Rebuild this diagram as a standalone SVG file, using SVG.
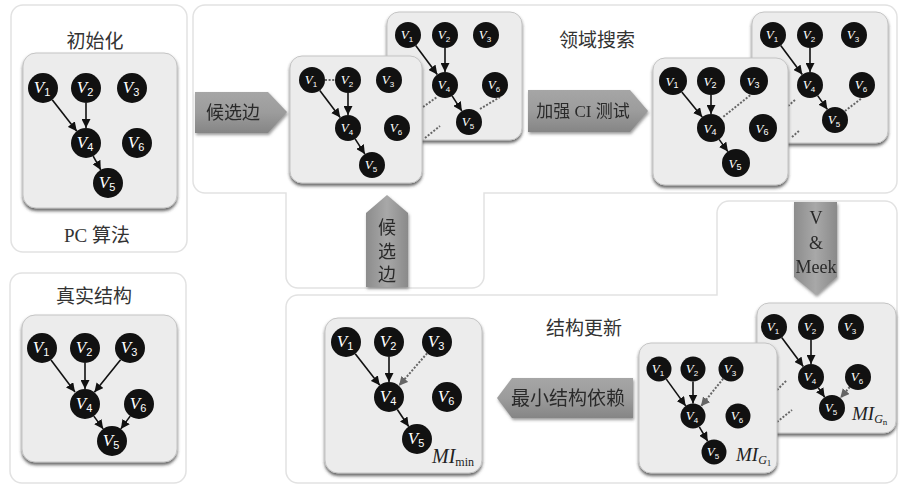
<svg xmlns="http://www.w3.org/2000/svg" width="900" height="486" viewBox="0 0 900 486">
<defs>
<style>
.panel{fill:#fff;stroke:#e2e2e2;stroke-width:1.5}
.box{fill:#ececec;stroke:#c4c4c4;stroke-width:1;filter:url(#sh)}
.n{fill:#111}
.nl{font-family:"Liberation Serif",serif;font-style:italic;fill:#fff;text-anchor:middle}
.big{font-size:17px}
.sm{font-size:13px}
.sub{font-style:normal;font-family:"Liberation Sans",sans-serif}
.e{stroke:#111;stroke-width:1.6;fill:none;marker-end:url(#ah)}
.d{stroke:#666;stroke-width:2;stroke-dasharray:2,1.6;fill:none}
.da{stroke:#666;stroke-width:2;stroke-dasharray:2,1.6;fill:none;marker-end:url(#ahg)}
.t{font-family:"Liberation Serif","Noto Sans CJK SC",serif;fill:#333;text-anchor:middle}
.at{font-family:"Liberation Serif","Noto Sans CJK SC",serif;fill:#2a2a2a;text-anchor:middle}
.mi{font-family:"Liberation Serif",serif;font-style:italic;fill:#222}
.ar{filter:url(#sh2)}
</style>
<filter id="sh" x="-10%" y="-10%" width="120%" height="125%">
<feDropShadow dx="0" dy="2.5" stdDeviation="1.4" flood-color="#333" flood-opacity="0.75"/>
</filter>
<filter id="sh2" x="-20%" y="-20%" width="140%" height="140%">
<feDropShadow dx="1" dy="2" stdDeviation="1.6" flood-color="#555" flood-opacity="0.6"/>
</filter>
<linearGradient id="gh" x1="0" y1="0" x2="0" y2="1">
<stop offset="0" stop-color="#a6a6a6"/><stop offset="0.5" stop-color="#9c9c9c"/><stop offset="1" stop-color="#858585"/>
</linearGradient>
<linearGradient id="gv" x1="0" y1="0" x2="1" y2="0">
<stop offset="0" stop-color="#8c8c8c"/><stop offset="0.5" stop-color="#a8a8a8"/><stop offset="1" stop-color="#8a8a8a"/>
</linearGradient>
<marker id="ah" viewBox="0 0 10 10" refX="10" refY="5" markerWidth="9" markerHeight="9" markerUnits="userSpaceOnUse" orient="auto">
<path d="M0,0 L10,5 L0,10 z" fill="#111"/>
</marker>
<marker id="ahg" viewBox="0 0 10 10" refX="10" refY="5" markerWidth="9" markerHeight="9" markerUnits="userSpaceOnUse" orient="auto">
<path d="M0,0 L10,5 L0,10 z" fill="#666"/>
</marker>
</defs>

<g id="panels">
<rect class="panel" x="11" y="5" width="176" height="247" rx="12"/>
<rect class="panel" x="10" y="273" width="176" height="210" rx="12"/>
<path class="panel" d="M205,5 H885 A12,12 0 0 1 897,17 V181 A12,12 0 0 1 885,193 H484 V276 A12,12 0 0 1 472,288 H298 A12,12 0 0 1 286,276 V193 H205 A12,12 0 0 1 193,181 V17 A12,12 0 0 1 205,5 Z"/>
<path class="panel" d="M298,295 H717 V213 A12,12 0 0 1 729,201 H885 A12,12 0 0 1 897,213 V471 A12,12 0 0 1 885,483 H298 A12,12 0 0 1 286,471 V307 A12,12 0 0 1 298,295 Z"/>
</g>

<g id="titles">
<text class="t" x="95" y="48" font-size="19">初始化</text>
<text class="t" x="97" y="242" font-size="19">PC 算法</text>
<text class="t" x="94" y="303" font-size="19">真实结构</text>
<text class="t" x="597" y="47" font-size="19">领域搜索</text>
<text class="t" x="584" y="335" font-size="19">结构更新</text>
</g>

<g id="arrows">
<g id="arrow-candidate-right" class="ar">
<polygon points="195,92 268,92 287,112 268,133 195,133" fill="url(#gh)"/>
<text class="at" x="233" y="119" font-size="18">候选边</text>
</g>
<g id="arrow-ci" class="ar">
<polygon points="528,90 630,90 648,111 630,132 528,132" fill="url(#gh)"/>
<text class="at" x="583" y="117" font-size="17">加强 CI 测试</text>
</g>
<g id="arrow-candidate-up" class="ar">
<polygon points="366,213 387,195 408,213 408,287 366,287" fill="url(#gv)"/>
<text class="at" x="387" y="234" font-size="18">候</text>
<text class="at" x="387" y="258" font-size="18">选</text>
<text class="at" x="387" y="281" font-size="18">边</text>
</g>
<g id="arrow-meek" class="ar">
<polygon points="794,202 837,202 837,277 816,295 794,277" fill="url(#gv)"/>
<text class="at" x="816" y="224" font-size="18">V</text>
<text class="at" x="816" y="249" font-size="18">&amp;</text>
<text class="at" x="816" y="273" font-size="18">Meek</text>
</g>
<g id="arrow-minimal" class="ar">
<polygon points="497,398 512,378 633,378 633,418 512,418" fill="url(#gh)"/>
<text class="at" x="568" y="405" font-size="19">最小结构依赖</text>
</g>
</g>

<g id="graph-init">
<rect class="box" x="23" y="53" width="154" height="155" rx="13"/>
<g id="connectors-init">
<line class="e" x1="52.2" y1="99.8" x2="76.8" y2="131.2"/>
<line class="e" x1="86" y1="103" x2="86" y2="128"/>
<line class="e" x1="93.2" y1="156.1" x2="100.8" y2="169.9"/>
</g>
<g id="init-V1"><circle class="n" cx="43" cy="88" r="15"/><text class="nl big" x="42" y="93">V<tspan class="sub" font-size="11" dy="3">1</tspan></text></g>
<g id="init-V2"><circle class="n" cx="86" cy="88" r="15"/><text class="nl big" x="85" y="93">V<tspan class="sub" font-size="11" dy="3">2</tspan></text></g>
<g id="init-V3"><circle class="n" cx="132" cy="88" r="15"/><text class="nl big" x="131" y="93">V<tspan class="sub" font-size="11" dy="3">3</tspan></text></g>
<g id="init-V4"><circle class="n" cx="86" cy="143" r="15"/><text class="nl big" x="85" y="148">V<tspan class="sub" font-size="11" dy="3">4</tspan></text></g>
<g id="init-V6"><circle class="n" cx="137" cy="143" r="15"/><text class="nl big" x="136" y="148">V<tspan class="sub" font-size="11" dy="3">6</tspan></text></g>
<g id="init-V5"><circle class="n" cx="108" cy="183" r="15"/><text class="nl big" x="107" y="188">V<tspan class="sub" font-size="11" dy="3">5</tspan></text></g>
</g>

<g id="graph-truth">
<rect class="box" x="22" y="315" width="155" height="147" rx="13"/>
<g id="connectors-truth">
<line class="e" x1="51" y1="360" x2="75" y2="392"/>
<line class="e" x1="85" y1="363" x2="85" y2="389"/>
<line class="e" x1="120.6" y1="359.7" x2="94.4" y2="392.3"/>
<line class="e" x1="93.8" y1="416.1" x2="103.2" y2="428.9"/>
<line class="e" x1="130.2" y1="416.1" x2="120.8" y2="428.9"/>
</g>
<g id="truth-V1"><circle class="n" cx="42" cy="348" r="15"/><text class="nl big" x="41" y="353">V<tspan class="sub" font-size="11" dy="3">1</tspan></text></g>
<g id="truth-V2"><circle class="n" cx="85" cy="348" r="15"/><text class="nl big" x="84" y="353">V<tspan class="sub" font-size="11" dy="3">2</tspan></text></g>
<g id="truth-V3"><circle class="n" cx="130" cy="348" r="15"/><text class="nl big" x="129" y="353">V<tspan class="sub" font-size="11" dy="3">3</tspan></text></g>
<g id="truth-V4"><circle class="n" cx="85" cy="404" r="15"/><text class="nl big" x="84" y="409">V<tspan class="sub" font-size="11" dy="3">4</tspan></text></g>
<g id="truth-V6"><circle class="n" cx="139" cy="404" r="15"/><text class="nl big" x="138" y="409">V<tspan class="sub" font-size="11" dy="3">6</tspan></text></g>
<g id="truth-V5"><circle class="n" cx="112" cy="441" r="15"/><text class="nl big" x="111" y="446">V<tspan class="sub" font-size="11" dy="3">5</tspan></text></g>
</g>

<g id="graph-search-back">
<rect class="box" x="387" y="12" width="135" height="128" rx="12"/>
<g id="connectors-search-back">
<line class="e" x1="415.7" y1="45.5" x2="437.3" y2="74.5"/>
<line class="e" x1="445" y1="48" x2="445" y2="72"/>
<line class="e" x1="452.1" y1="95.9" x2="461.9" y2="111.1"/>
<line class="d" x1="480" y1="109" x2="500" y2="97"/>
<line class="d" x1="423" y1="107" x2="437" y2="97"/>
<line class="d" x1="425" y1="138" x2="440" y2="126"/>
</g>
<g id="sb-V1"><circle class="n" cx="408" cy="35" r="13"/><text class="nl sm" x="407" y="39">V<tspan class="sub" font-size="8" dy="2.5">1</tspan></text></g>
<g id="sb-V2"><circle class="n" cx="445" cy="35" r="13"/><text class="nl sm" x="444" y="39">V<tspan class="sub" font-size="8" dy="2.5">2</tspan></text></g>
<g id="sb-V3"><circle class="n" cx="486" cy="35" r="13"/><text class="nl sm" x="485" y="39">V<tspan class="sub" font-size="8" dy="2.5">3</tspan></text></g>
<g id="sb-V4"><circle class="n" cx="445" cy="85" r="13"/><text class="nl sm" x="444" y="89">V<tspan class="sub" font-size="8" dy="2.5">4</tspan></text></g>
<g id="sb-V6"><circle class="n" cx="495" cy="85" r="13"/><text class="nl sm" x="494" y="89">V<tspan class="sub" font-size="8" dy="2.5">6</tspan></text></g>
<g id="sb-V5"><circle class="n" cx="469" cy="122" r="13"/><text class="nl sm" x="468" y="126">V<tspan class="sub" font-size="8" dy="2.5">5</tspan></text></g>
</g>

<g id="graph-search-front">
<rect class="box" x="290" y="56" width="132" height="127" rx="12"/>
<g id="connectors-search-front">
<line class="e" x1="319.8" y1="90.4" x2="340.2" y2="117.6"/>
<line class="e" x1="348" y1="93" x2="348" y2="115"/>
<line class="e" x1="355.1" y1="138.9" x2="364.9" y2="154.1"/>
<line class="d" x1="325" y1="80" x2="335" y2="80"/>
</g>
<g id="sf-V1"><circle class="n" cx="312" cy="80" r="13"/><text class="nl sm" x="311" y="84">V<tspan class="sub" font-size="8" dy="2.5">1</tspan></text></g>
<g id="sf-V2"><circle class="n" cx="348" cy="80" r="13"/><text class="nl sm" x="347" y="84">V<tspan class="sub" font-size="8" dy="2.5">2</tspan></text></g>
<g id="sf-V3"><circle class="n" cx="389" cy="80" r="13"/><text class="nl sm" x="388" y="84">V<tspan class="sub" font-size="8" dy="2.5">3</tspan></text></g>
<g id="sf-V4"><circle class="n" cx="348" cy="128" r="13"/><text class="nl sm" x="347" y="132">V<tspan class="sub" font-size="8" dy="2.5">4</tspan></text></g>
<g id="sf-V6"><circle class="n" cx="397" cy="128" r="13"/><text class="nl sm" x="396" y="132">V<tspan class="sub" font-size="8" dy="2.5">6</tspan></text></g>
<g id="sf-V5"><circle class="n" cx="372" cy="165" r="13"/><text class="nl sm" x="371" y="169">V<tspan class="sub" font-size="8" dy="2.5">5</tspan></text></g>
</g>

<g id="graph-ci-back">
<rect class="box" x="752" y="12" width="136" height="131" rx="12"/>
<g id="connectors-ci-back">
<line class="e" x1="780.7" y1="45.5" x2="802.3" y2="74.5"/>
<line class="e" x1="810" y1="48" x2="810" y2="72"/>
<line class="e" x1="817.6" y1="95.6" x2="827.4" y2="109.4"/>
<line class="d" x1="845" y1="111" x2="862" y2="98"/>
<line class="d" x1="788" y1="106" x2="795" y2="100"/>
<line class="d" x1="792" y1="137" x2="800" y2="130"/>
</g>
<g id="cb-V1"><circle class="n" cx="773" cy="35" r="13"/><text class="nl sm" x="772" y="39">V<tspan class="sub" font-size="8" dy="2.5">1</tspan></text></g>
<g id="cb-V2"><circle class="n" cx="810" cy="35" r="13"/><text class="nl sm" x="809" y="39">V<tspan class="sub" font-size="8" dy="2.5">2</tspan></text></g>
<g id="cb-V3"><circle class="n" cx="854" cy="35" r="13"/><text class="nl sm" x="853" y="39">V<tspan class="sub" font-size="8" dy="2.5">3</tspan></text></g>
<g id="cb-V4"><circle class="n" cx="810" cy="85" r="13"/><text class="nl sm" x="809" y="89">V<tspan class="sub" font-size="8" dy="2.5">4</tspan></text></g>
<g id="cb-V6"><circle class="n" cx="862" cy="85" r="13"/><text class="nl sm" x="861" y="89">V<tspan class="sub" font-size="8" dy="2.5">6</tspan></text></g>
<g id="cb-V5"><circle class="n" cx="835" cy="120" r="13"/><text class="nl sm" x="834" y="124">V<tspan class="sub" font-size="8" dy="2.5">5</tspan></text></g>
</g>

<g id="graph-ci-front">
<rect class="box" x="653" y="58" width="135" height="127" rx="12"/>
<g id="connectors-ci-front">
<line class="e" x1="681.8" y1="91.9" x2="702.2" y2="117.1"/>
<line class="e" x1="711" y1="95" x2="711" y2="114"/>
<line class="e" x1="719.1" y1="139.4" x2="727.9" y2="151.6"/>
<line class="d" x1="753" y1="93" x2="723" y2="117"/>
</g>
<g id="cf-V1"><circle class="n" cx="673" cy="81" r="14"/><text class="nl sm" x="672" y="85.5">V<tspan class="sub" font-size="9" dy="2.5">1</tspan></text></g>
<g id="cf-V2"><circle class="n" cx="711" cy="81" r="14"/><text class="nl sm" x="710" y="85.5">V<tspan class="sub" font-size="9" dy="2.5">2</tspan></text></g>
<g id="cf-V3"><circle class="n" cx="754" cy="81" r="14"/><text class="nl sm" x="753" y="85.5">V<tspan class="sub" font-size="9" dy="2.5">3</tspan></text></g>
<g id="cf-V4"><circle class="n" cx="711" cy="128" r="14"/><text class="nl sm" x="710" y="132.5">V<tspan class="sub" font-size="9" dy="2.5">4</tspan></text></g>
<g id="cf-V6"><circle class="n" cx="763" cy="128" r="14"/><text class="nl sm" x="762" y="132.5">V<tspan class="sub" font-size="9" dy="2.5">6</tspan></text></g>
<g id="cf-V5"><circle class="n" cx="736" cy="163" r="14"/><text class="nl sm" x="735" y="167.5">V<tspan class="sub" font-size="9" dy="2.5">5</tspan></text></g>
</g>

<g id="graph-mi-min">
<rect class="box" x="325" y="318" width="157" height="155" rx="13"/>
<g id="connectors-mi-min">
<line class="e" x1="355.2" y1="353.8" x2="379.8" y2="385.2"/>
<line class="e" x1="389" y1="357" x2="389" y2="382"/>
<line class="da" x1="427.1" y1="353.3" x2="398.9" y2="385.7"/>
<line class="e" x1="397.3" y1="409.5" x2="408.7" y2="426.5"/>
</g>
<g id="mm-V1"><circle class="n" cx="346" cy="342" r="15"/><text class="nl big" x="345" y="347">V<tspan class="sub" font-size="11" dy="3">1</tspan></text></g>
<g id="mm-V2"><circle class="n" cx="389" cy="342" r="15"/><text class="nl big" x="388" y="347">V<tspan class="sub" font-size="11" dy="3">2</tspan></text></g>
<g id="mm-V3"><circle class="n" cx="437" cy="342" r="15"/><text class="nl big" x="436" y="347">V<tspan class="sub" font-size="11" dy="3">3</tspan></text></g>
<g id="mm-V4"><circle class="n" cx="389" cy="397" r="15"/><text class="nl big" x="388" y="402">V<tspan class="sub" font-size="11" dy="3">4</tspan></text></g>
<g id="mm-V6"><circle class="n" cx="447" cy="397" r="15"/><text class="nl big" x="446" y="402">V<tspan class="sub" font-size="11" dy="3">6</tspan></text></g>
<g id="mm-V5"><circle class="n" cx="417" cy="439" r="15"/><text class="nl big" x="416" y="444">V<tspan class="sub" font-size="11" dy="3">5</tspan></text></g>
<text class="mi" x="432" y="463" font-size="20">MI<tspan font-style="normal" font-size="12" dy="3">min</tspan></text>
</g>

<g id="graph-mi-gn">
<rect class="box" x="757" y="303" width="139" height="130" rx="12"/>
<g id="connectors-mi-gn">
<line class="e" x1="781.7" y1="337.5" x2="803.3" y2="366.5"/>
<line class="e" x1="811" y1="340" x2="811" y2="364"/>
<line class="e" x1="818.3" y1="387.8" x2="824.7" y2="397.2"/>
<line class="da" x1="849.7" y1="387" x2="840.3" y2="398"/>
<line class="d" x1="777" y1="390" x2="787" y2="380"/>
<line class="d" x1="777" y1="422" x2="792" y2="410"/>
</g>
<g id="gn-V1"><circle class="n" cx="774" cy="327" r="13"/><text class="nl sm" x="773" y="331">V<tspan class="sub" font-size="8" dy="2.5">1</tspan></text></g>
<g id="gn-V2"><circle class="n" cx="811" cy="327" r="13"/><text class="nl sm" x="810" y="331">V<tspan class="sub" font-size="8" dy="2.5">2</tspan></text></g>
<g id="gn-V3"><circle class="n" cx="851" cy="327" r="13"/><text class="nl sm" x="850" y="331">V<tspan class="sub" font-size="8" dy="2.5">3</tspan></text></g>
<g id="gn-V4"><circle class="n" cx="811" cy="377" r="13"/><text class="nl sm" x="810" y="381">V<tspan class="sub" font-size="8" dy="2.5">4</tspan></text></g>
<g id="gn-V6"><circle class="n" cx="858" cy="377" r="13"/><text class="nl sm" x="857" y="381">V<tspan class="sub" font-size="8" dy="2.5">6</tspan></text></g>
<g id="gn-V5"><circle class="n" cx="832" cy="408" r="13"/><text class="nl sm" x="831" y="412">V<tspan class="sub" font-size="8" dy="2.5">5</tspan></text></g>
<text class="mi" x="852" y="420" font-size="19">MI<tspan font-size="12" dy="3">G<tspan font-style="normal" font-size="9" dy="2">n</tspan></tspan></text>
</g>

<g id="graph-mi-g1">
<rect class="box" x="639" y="343" width="138" height="130" rx="12"/>
<g id="connectors-mi-g1">
<line class="e" x1="666.3" y1="379.1" x2="685.7" y2="405.9"/>
<line class="e" x1="693" y1="381.5" x2="693" y2="403.5"/>
<line class="da" x1="723.1" y1="378.7" x2="700.9" y2="406.3"/>
<line class="e" x1="699.3" y1="426.8" x2="707.7" y2="441.2"/>
</g>
<g id="g1-V1"><circle class="n" cx="659" cy="369" r="12.5"/><text class="nl sm" x="658" y="373">V<tspan class="sub" font-size="8" dy="2.5">1</tspan></text></g>
<g id="g1-V2"><circle class="n" cx="693" cy="369" r="12.5"/><text class="nl sm" x="692" y="373">V<tspan class="sub" font-size="8" dy="2.5">2</tspan></text></g>
<g id="g1-V3"><circle class="n" cx="731" cy="369" r="12.5"/><text class="nl sm" x="730" y="373">V<tspan class="sub" font-size="8" dy="2.5">3</tspan></text></g>
<g id="g1-V4"><circle class="n" cx="693" cy="416" r="12.5"/><text class="nl sm" x="692" y="420">V<tspan class="sub" font-size="8" dy="2.5">4</tspan></text></g>
<g id="g1-V6"><circle class="n" cx="738" cy="416" r="12.5"/><text class="nl sm" x="737" y="420">V<tspan class="sub" font-size="8" dy="2.5">6</tspan></text></g>
<g id="g1-V5"><circle class="n" cx="714" cy="452" r="12.5"/><text class="nl sm" x="713" y="456">V<tspan class="sub" font-size="8" dy="2.5">5</tspan></text></g>
<text class="mi" x="736" y="461" font-size="19">MI<tspan font-size="12" dy="3">G<tspan font-style="normal" font-size="9" dy="2">1</tspan></tspan></text>
</g>
</svg>
